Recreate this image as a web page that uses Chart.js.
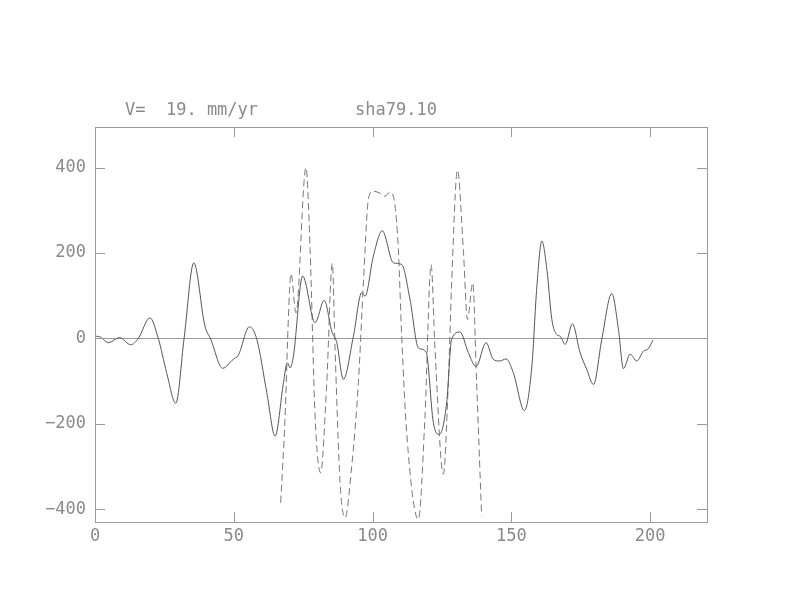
<!DOCTYPE html>
<html>
<head>
<meta charset="utf-8">
<script src="https://cdn.jsdelivr.net/npm/chart.js@4"></script>
<style>
  html, body { margin: 0; padding: 0; background: #fff; }
  #wrap { width: 792px; height: 612px; }
</style>
</head>
<body>
<div id="wrap"><canvas id="plot" width="792" height="612"></canvas></div>
<script>
// solid trace (distance, value)
var solidX = [0.4, 2, 4.8, 8.8, 12.9, 15.6, 19.8, 22.8, 25.8, 29.1, 32.1, 35.6, 39.6, 41.7, 46.0, 49.8, 51.6, 55.6, 58.3, 61.9, 64.9, 67.9, 69.3, 70.3, 71.5, 74.8, 79.3, 82.6, 85.3, 87.1, 89.5, 93.1, 96.1, 97.3, 100.3, 103.5, 107.5, 110.5, 113.5, 116.5, 119.3, 121.9, 124.1, 126.7, 128.5, 131.5, 134.5, 137.3, 140.9, 143.5, 145.9, 148.1, 150.7, 154.7, 157.4, 159.2, 161.0, 162.8, 164.6, 166.4, 167.6, 169.4, 172.0, 174.8, 177.2, 179.6, 182.6, 186.2, 188.6, 190.4, 192.8, 195.2, 197.6, 199.4, 201];
var solidY = [5, 3, -10, 2, -15, 0, 48, 0, -80, -152, 0, 177, 29, -2, -70, -49, -40, 27, -2, -127, -229, -104, -57, -69, -41, 146, 37, 89, 17, -10, -96, 5, 107, 99, 193, 252, 177, 173, 91, -22, -32, -197, -225, -151, -2, 15, -33, -66, -10, -49, -53, -48, -80, -169, -65, 122, 228, 162, 44, 9, 5, -14, 34, -34, -73, -108, -2, 105, 21, -71, -37, -53, -30, -24, -4];

// dashed trace
var dashX = [66.9, 68.5, 69.7, 70.6, 72.4, 76.0, 77.5, 79.3, 81.3, 83.5, 85.5, 86.5, 88.3, 90.1, 92.5, 94.9, 96.7, 98.5, 100.1, 102.7, 104.5, 106.3, 108.1, 109.3, 110.5, 112.3, 116.5, 118.9, 121.1, 122.5, 125.5, 127.3, 128.5, 130.6, 132.7, 134.2, 136.1, 137.5, 139.3];
var dashY = [-385, -182, 52, 152, 60, 400, 208, -182, -315, -104, 176, -26, -338, -420, -299, -104, 130, 326, 345, 340, 333, 343, 310, 208, 5, -221, -424, -182, 173, -26, -318, -104, 130, 394, 208, 44, 130, -104, -416];

var xTicks = [0, 50, 100, 150, 200];
var yTicks = [-400, -200, 0, 200, 400];

var label1 = 'V=  19. mm/yr';
var label2 = 'sha79.10';

function pts(xs, ys) {
    return xs.map(function (x, i) { return { x: x, y: ys[i] }; });
}

var axisColor = '#9a9a9a';
var textColor = '#8a8a8a';
var monoFont = "'DejaVu Sans Mono', 'Liberation Mono', monospace";

// frame, inward ticks and header text
var framePlugin = {
    id: 'frame',
    afterDraw: function (chart) {
        var c = chart.ctx, a = chart.chartArea;
        var xs = chart.scales.x, ys = chart.scales.y;
        c.save();
        c.strokeStyle = axisColor;
        c.lineWidth = 1;
        c.strokeRect(a.left + 0.5, a.top + 0.5, a.right - a.left, a.bottom - a.top);
        c.beginPath();
        xTicks.forEach(function (v) {
            var px = Math.round(xs.getPixelForValue(v)) + 0.5;
            c.moveTo(px, a.bottom); c.lineTo(px, a.bottom - 10);
            c.moveTo(px, a.top); c.lineTo(px, a.top + 10);
        });
        yTicks.forEach(function (v) {
            var py = Math.round(ys.getPixelForValue(v)) + 0.5;
            c.moveTo(a.left, py); c.lineTo(a.left + 10, py);
            c.moveTo(a.right, py); c.lineTo(a.right - 10, py);
        });
        c.stroke();
        c.fillStyle = textColor;
        c.font = '17px ' + monoFont;
        c.textBaseline = 'alphabetic';
        c.textAlign = 'left';
        c.fillText(label1, 125, 115);
        c.fillText(label2, 355, 115);
        c.restore();
    }
};

new Chart(document.getElementById('plot').getContext('2d'), {
    type: 'line',
    data: {
        datasets: [{
            data: pts(solidX, solidY),
            borderColor: '#555',
            borderWidth: 1,
            pointRadius: 0,
            fill: false,
            cubicInterpolationMode: 'monotone'
        }, {
            data: pts(dashX, dashY),
            borderColor: '#777',
            borderWidth: 1,
            borderDash: [7, 4],
            pointRadius: 0,
            fill: false,
            cubicInterpolationMode: 'monotone'
        }]
    },
    options: {
        responsive: false,
        animation: false,
        layout: { padding: { top: 127, right: 85, bottom: 50, left: 0 } },
        plugins: { legend: { display: false }, tooltip: { enabled: false } },
        scales: {
            x: {
                type: 'linear',
                min: 0,
                max: 220.5,
                afterBuildTicks: function (s) { s.ticks = xTicks.map(function (v) { return { value: v }; }); },
                afterFit: function (s) { s.height = 40; },
                border: { display: false },
                grid: { display: false, drawTicks: false },
                ticks: { color: textColor, padding: 4, maxRotation: 0, font: { family: monoFont, size: 17 } }
            },
            y: {
                type: 'linear',
                min: -430,
                max: 495,
                afterBuildTicks: function (s) { s.ticks = yTicks.map(function (v) { return { value: v }; }); },
                afterFit: function (s) { s.width = 95; },
                border: { display: false },
                grid: {
                    drawTicks: false,
                    color: function (ctx) { return ctx.tick && ctx.tick.value === 0 ? axisColor : 'rgba(0,0,0,0)'; }
                },
                ticks: {
                    color: textColor,
                    padding: 9,
                    font: { family: monoFont, size: 17 },
                    callback: function (v) { return v < 0 ? '\u2212' + Math.abs(v) : String(v); }
                }
            }
        }
    },
    plugins: [framePlugin]
});
</script>
</body>
</html>
